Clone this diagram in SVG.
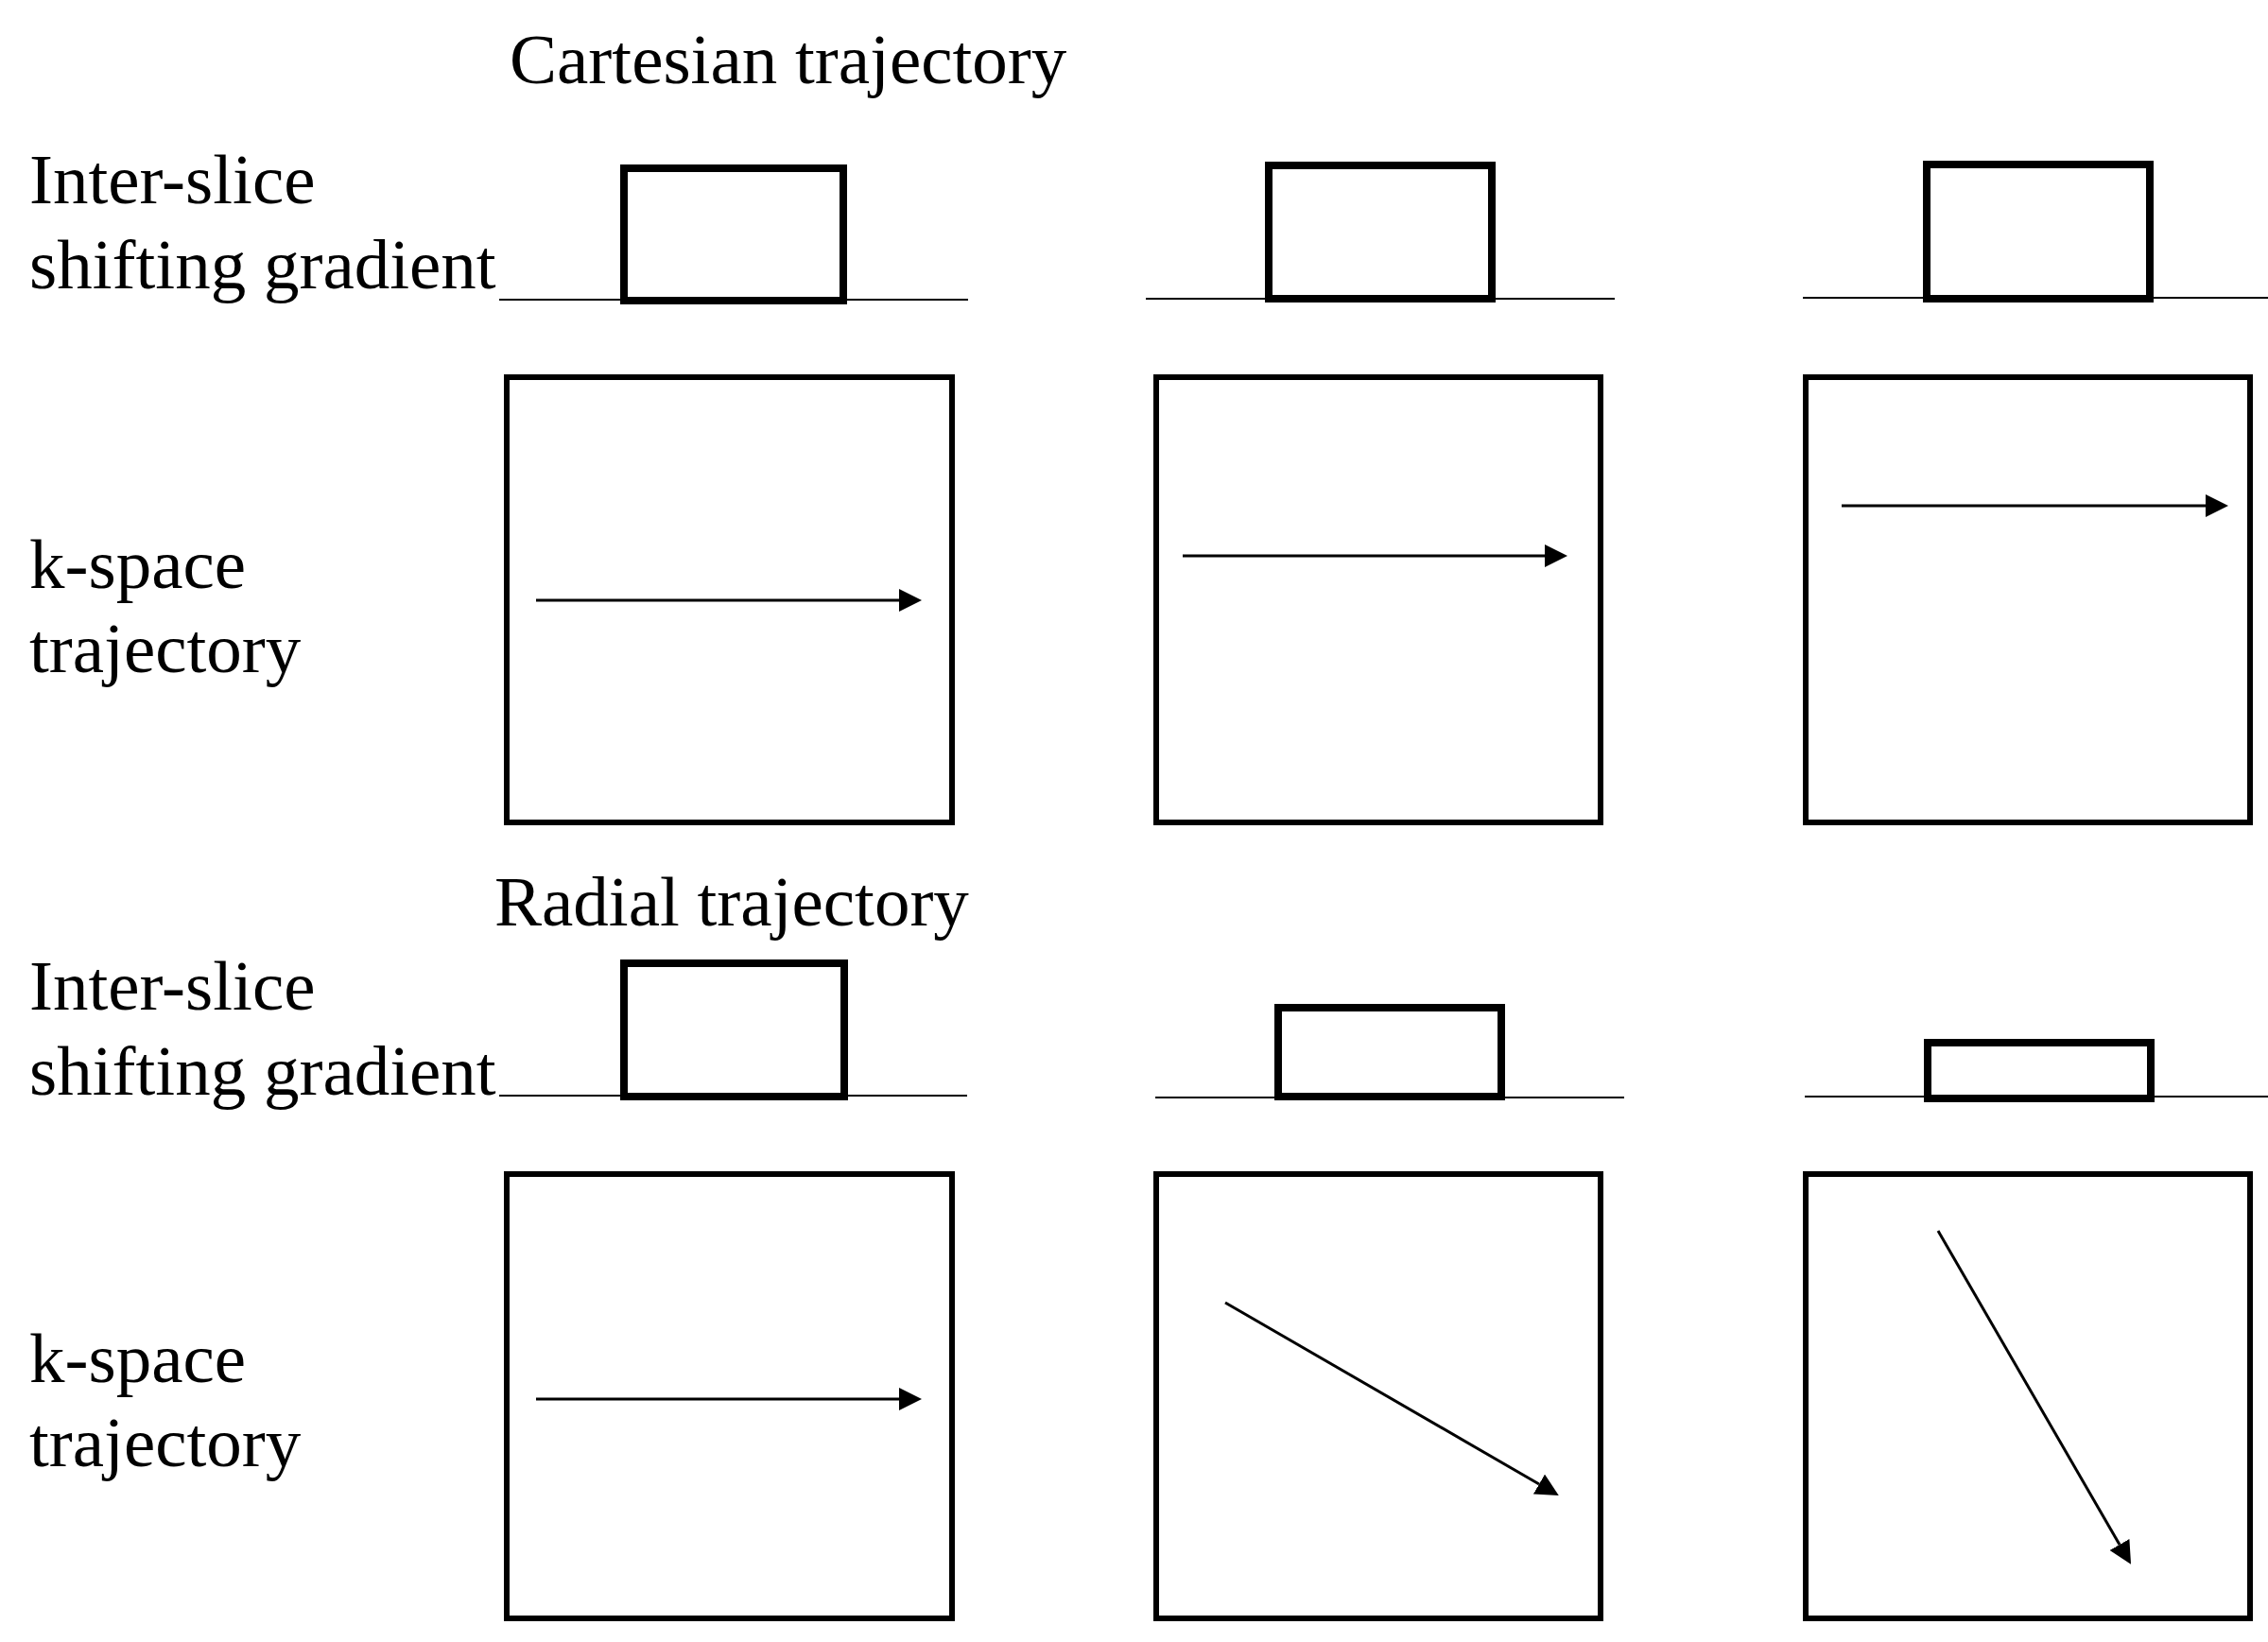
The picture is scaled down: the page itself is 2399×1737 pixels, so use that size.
<svg xmlns="http://www.w3.org/2000/svg" width="2399" height="1737" viewBox="0 0 2399 1737">
<style>
.t{font-family:"Liberation Serif","Times New Roman",serif;font-size:75px;fill:#000}
.g{fill:none;stroke:#000;stroke-width:8}
.b{fill:none;stroke:#000;stroke-width:2}
.k{fill:none;stroke:#000;stroke-width:6}
.a{fill:none;stroke:#000;stroke-width:3}
</style>
<defs>
<marker id="ah" markerUnits="userSpaceOnUse" markerWidth="24" markerHeight="24" refX="0" refY="12" orient="auto" viewBox="0 0 24 24">
<path d="M0,0 L24,12 L0,24 z" fill="#000"/>
</marker>
</defs>
<rect width="2399" height="1737" fill="#fff"/>
<g id="labels">
<text class="t" x="539" y="88">Cartesian trajectory</text>
<text class="t" x="31" y="215">Inter-slice</text>
<text class="t" x="31" y="305">shifting gradient</text>
<text class="t" x="31" y="622">k-space</text>
<text class="t" x="31" y="711">trajectory</text>
<text class="t" x="523" y="979">Radial trajectory</text>
<text class="t" x="31" y="1068">Inter-slice</text>
<text class="t" x="31" y="1158">shifting gradient</text>
<text class="t" x="31" y="1462">k-space</text>
<text class="t" x="31" y="1551">trajectory</text>
</g>
<g id="cart-grad-1"><line class="b" x1="528" y1="317" x2="1024" y2="317"/><rect class="g" x="660" y="178" width="232" height="140"/></g>
<g id="cart-grad-2"><line class="b" x1="1212" y1="316" x2="1708" y2="316"/><rect class="g" x="1342" y="175" width="236" height="141"/></g>
<g id="cart-grad-3"><line class="b" x1="1907" y1="315" x2="2399" y2="315"/><rect class="g" x="2038" y="174" width="236" height="142"/></g>
<g id="cart-k-1"><rect class="k" x="536" y="399" width="471" height="471"/></g>
<g id="cart-k-2"><rect class="k" x="1223" y="399" width="470" height="471"/></g>
<g id="cart-k-3"><rect class="k" x="1910" y="399" width="470" height="471"/></g>
<g id="rad-grad-1"><line class="b" x1="528" y1="1159" x2="1023" y2="1159"/><rect class="g" x="660" y="1019" width="233" height="141"/></g>
<g id="rad-grad-2"><line class="b" x1="1222" y1="1161" x2="1718" y2="1161"/><rect class="g" x="1352" y="1066" width="236" height="94"/></g>
<g id="rad-grad-3"><line class="b" x1="1909" y1="1160" x2="2399" y2="1160"/><rect class="g" x="2039" y="1103" width="236" height="59"/></g>
<g id="rad-k-1"><rect class="k" x="536" y="1242" width="471" height="470"/></g>
<g id="rad-k-2"><rect class="k" x="1223" y="1242" width="470" height="470"/></g>
<g id="rad-k-3"><rect class="k" x="1910" y="1242" width="470" height="470"/></g>
<g id="connectors">
<line class="a" x1="567" y1="635" x2="951" y2="635" marker-end="url(#ah)"/>
<line class="a" x1="1251" y1="588" x2="1634" y2="588" marker-end="url(#ah)"/>
<line class="a" x1="1948" y1="535" x2="2333" y2="535" marker-end="url(#ah)"/>
<line class="a" x1="567" y1="1480" x2="951" y2="1480" marker-end="url(#ah)"/>
<line class="a" x1="1296" y1="1378" x2="1628" y2="1570" marker-end="url(#ah)"/>
<line class="a" x1="2050" y1="1302" x2="2242" y2="1634" marker-end="url(#ah)"/>
</g>
</svg>
